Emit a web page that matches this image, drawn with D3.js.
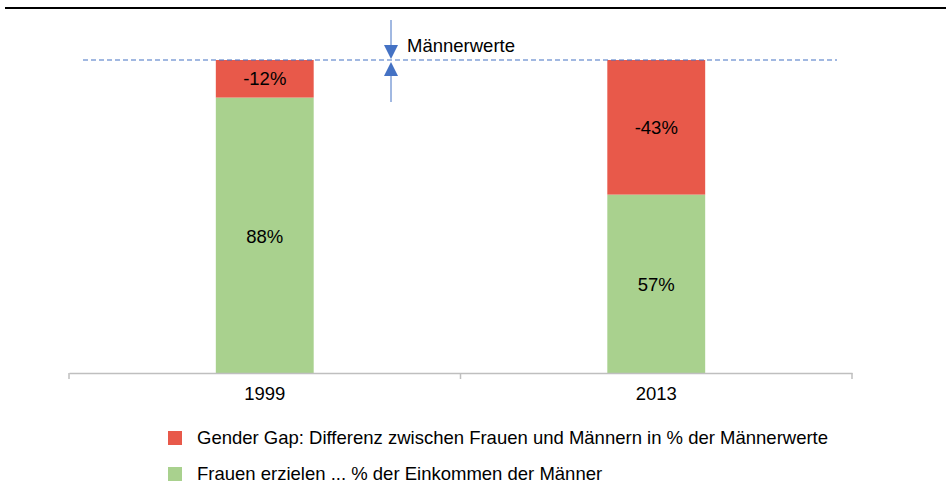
<!DOCTYPE html>
<html>
<head>
<meta charset="utf-8">
<script src="https://cdn.jsdelivr.net/npm/d3@7"></script>
<style>
  body { margin: 0; background: #fff; }
  text { font-family: "Liberation Sans", Arial, sans-serif; fill: #000; }
</style>
</head>
<body>
<div id="chart"></div>
<script>
const years = ['1999', '2013'];
const womenShare = [88, 57];   // Frauen erzielen ... % der Einkommen der Männer
const genderGap = [12, 43];    // Gender Gap in %
const seriesNames = [
  'Gender Gap: Differenz zwischen Frauen und Männern in % der Männerwerte',
  'Frauen erzielen ... % der Einkommen der Männer'
];
const colors = { gap: '#e8594a', women: '#a9d18e' };

const width = 946, height = 487;
const margin = { top: 60, bottom: 114, left: 69, right: 94 };
const chartWidth = width - margin.left - margin.right;
const chartHeight = height - margin.top - margin.bottom;
const fontSize = 18.5;

const svg = d3.select('#chart').append('svg').attr('width', width).attr('height', height);

// top rule
svg.append('line').attr('x1', 5).attr('x2', width).attr('y1', 8).attr('y2', 8)
  .attr('stroke', '#000').attr('stroke-width', 2);

const x = d3.scaleBand().domain(years).range([0, chartWidth]).paddingInner(0).paddingOuter(0);
const y = d3.scaleLinear().domain([0, 100]).range([chartHeight, 0]);
const barWidth = x.bandwidth() * 0.25;

const g = svg.append('g').attr('transform', `translate(${margin.left},${margin.top})`);

const rows = years.map((yr, i) => ({ year: yr, women: womenShare[i], gap: genderGap[i] }));

// bars
const bar = g.selectAll('g.bar').data(rows).enter().append('g').classed('bar', true)
  .attr('transform', d => `translate(${x(d.year) + x.bandwidth() / 2 - barWidth / 2},0)`);

bar.append('rect')
  .attr('y', d => y(d.women)).attr('width', barWidth)
  .attr('height', d => y(0) - y(d.women)).attr('fill', colors.women);

bar.append('rect')
  .attr('y', d => y(d.women + d.gap)).attr('width', barWidth)
  .attr('height', d => y(d.women) - y(d.women + d.gap)).attr('fill', colors.gap);

bar.append('text')
  .attr('x', barWidth / 2).attr('y', d => (y(0) + y(d.women)) / 2 + 1)
  .attr('dy', '0.35em').attr('text-anchor', 'middle').attr('font-size', fontSize)
  .text(d => d.women + '%');

bar.append('text')
  .attr('x', barWidth / 2).attr('y', d => (y(d.women) + y(d.women + d.gap)) / 2)
  .attr('dy', '0.35em').attr('text-anchor', 'middle').attr('font-size', fontSize)
  .text(d => '-' + d.gap + '%');

// x axis
const axis = d3.axisBottom(x).tickSize(0).tickPadding(14);
const ax = g.append('g').attr('transform', `translate(0,${chartHeight})`).call(axis);
ax.select('.domain').attr('stroke', '#bfbfbf').attr('stroke-width', 1.5);
ax.selectAll('.tick text').attr('font-size', fontSize).attr('font-family', '"Liberation Sans", Arial, sans-serif');
// category boundary ticks
[0, x.bandwidth(), chartWidth].forEach(px => {
  ax.append('line').attr('x1', px).attr('x2', px).attr('y1', 0).attr('y2', 6)
    .attr('stroke', '#bfbfbf').attr('stroke-width', 1.5);
});

// men's reference line (100%)
const blue = '#4472c4';
g.append('line')
  .attr('x1', 14).attr('x2', chartWidth - 15)
  .attr('y1', y(100)).attr('y2', y(100))
  .attr('stroke', blue).attr('stroke-width', 1.2).attr('stroke-dasharray', '5,3');

// arrows
const ax0 = 391 - margin.left;
g.append('line').attr('x1', ax0).attr('x2', ax0).attr('y1', y(100) - 40).attr('y2', y(100) - 12)
  .attr('stroke', blue).attr('stroke-width', 1);
g.append('path').attr('d', `M${ax0 - 7},${y(100) - 15} L${ax0 + 7},${y(100) - 15} L${ax0},${y(100) - 1} Z`)
  .attr('fill', blue);
g.append('line').attr('x1', ax0).attr('x2', ax0).attr('y1', y(100) + 12).attr('y2', y(100) + 42)
  .attr('stroke', blue).attr('stroke-width', 1);
g.append('path').attr('d', `M${ax0 - 7},${y(100) + 16} L${ax0 + 7},${y(100) + 16} L${ax0},${y(100) + 2} Z`)
  .attr('fill', blue);
g.append('text').attr('x', ax0 + 16).attr('y', y(100) - 8).attr('font-size', fontSize).text('Männerwerte');

// legend
const legend = svg.append('g').attr('transform', 'translate(168,431)');
const legendColors = [colors.gap, colors.women];
seriesNames.forEach((name, i) => {
  const item = legend.append('g').attr('transform', `translate(0,${i * 36})`);
  item.append('rect').attr('width', 14).attr('height', 14).attr('fill', legendColors[i]);
  item.append('text').attr('x', 29).attr('y', 7).attr('dy', '0.35em').attr('font-size', fontSize).text(name);
});
</script>
</body>
</html>
